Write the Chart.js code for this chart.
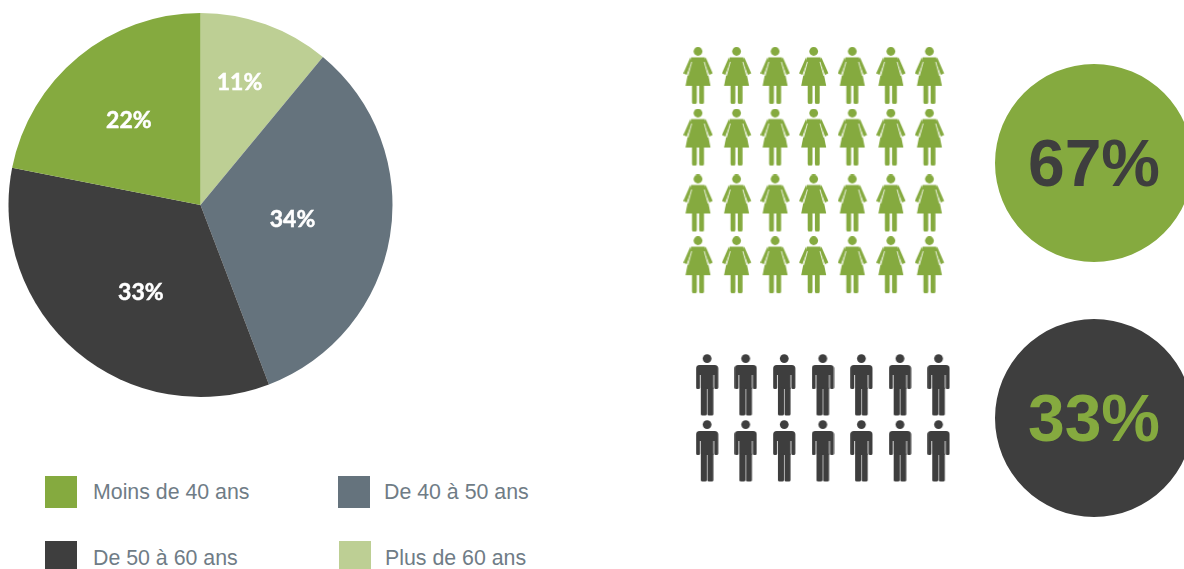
<!DOCTYPE html>
<html lang="fr">
<head>
<meta charset="utf-8">
<title>Répartition par âge et par sexe</title>
<script src="https://cdn.jsdelivr.net/npm/chart.js@4"></script>
<style>
    html, body { margin: 0; padding: 0; width: 1184px; height: 569px; overflow: hidden; background: #fff; }
    canvas { position: absolute; }
    #pieChart { left: 0; top: 0; }
    #womenChart { left: 679px; top: 45px; }
    #menChart { left: 688px; top: 352px; }
    #womenShare { left: 994px; top: 63px; }
    #menShare { left: 994px; top: 318px; }
    .key { position: absolute; width: 32px; height: 32px; }
    .keyText { position: absolute; font: 21.33px "Liberation Sans", sans-serif; color: #6f7c86; line-height: 32px; white-space: nowrap; }
</style>
</head>
<body>
<canvas id="pieChart" width="401" height="410"></canvas>
<canvas id="womenChart" width="270" height="251"></canvas>
<canvas id="menChart" width="270" height="132"></canvas>
<canvas id="womenShare" width="200" height="200"></canvas>
<canvas id="menShare" width="200" height="200"></canvas>
<div id="legend"></div>

<script>
// Slices clockwise from 12 o'clock. Shares are measured from the drawn angles,
// the printed labels are kept as they stand in the picture.
const categories = ['Plus de 60 ans', 'De 40 à 50 ans', 'De 50 à 60 ans', 'Moins de 40 ans'];
const sliceShares = [11, 33.2, 33.9, 21.9];
const sliceLabels = ['11%', '34%', '33%', '22%'];

const womenCount = 28;
const menCount = 14;
const iconsPerRow = 7;
const womenPercent = [67];
const menPercent = [33];

const GREEN = '#85aa3f';
const SLATE = '#65737d';
const DARK = '#3e3e3e';
const LIGHT = '#bdcf94';
const sliceColors = [LIGHT, SLATE, DARK, GREEN];

// where each label sits: angle from top in degrees, distance from the centre in px
const labelSpots = [[17.6, 129], [98.5, 93], [214.6, 105], [320, 111.5]];
// legend slots, same order as categories
const legendSpots = [
    { x: 339, y: 541, tx: 385, ty: 542 },
    { x: 338, y: 476, tx: 384, ty: 476 },
    { x: 45, y: 541, tx: 93, ty: 542 },
    { x: 45, y: 476, tx: 93, ty: 476 }
];

function newIcon(w, h) {
    const c = document.createElement('canvas');
    c.width = w;
    c.height = h;
    return c;
}

function poly(g, pts) {
    g.beginPath();
    pts.forEach((p, i) => (i ? g.lineTo(p[0], p[1]) : g.moveTo(p[0], p[1])));
    g.closePath();
    g.fill();
}

function womanIcon(color) {
    const c = newIcon(30, 58);
    const g = c.getContext('2d');
    g.fillStyle = color;
    g.strokeStyle = color;
    g.beginPath();
    g.arc(14.7, 4.5, 4.4, 0, Math.PI * 2);
    g.fill();
    // dress with shoulders
    poly(g, [[7.9, 10.4], [21.5, 10.4], [27.2, 39], [2.2, 39]]);
    // arms
    poly(g, [[7, 10.4], [0, 26.5], [3.4, 28], [8, 14.5]]);
    poly(g, [[22.4, 10.4], [29.4, 26.5], [26, 28], [21.4, 14.5]]);
    // thin gaps between arms and dress
    g.globalCompositeOperation = 'destination-out';
    g.lineWidth = 0.8;
    g.beginPath();
    g.moveTo(8.4, 15);
    g.lineTo(4.6, 29);
    g.moveTo(21, 15);
    g.lineTo(24.8, 29);
    g.stroke();
    g.globalCompositeOperation = 'source-over';
    // legs
    g.beginPath();
    g.roundRect(8.7, 38, 4.8, 19, 1.5);
    g.roundRect(15.9, 38, 4.8, 19, 1.5);
    g.fill();
    return c;
}

function manIcon(color) {
    const c = newIcon(23, 62);
    const g = c.getContext('2d');
    g.fillStyle = color;
    g.beginPath();
    g.arc(11.3, 4.6, 4.4, 0, Math.PI * 2);
    g.fill();
    // shoulders, arms and torso
    g.beginPath();
    g.roundRect(0.2, 11, 22.2, 10, [3.5, 3.5, 0, 0]);
    g.roundRect(0.2, 15, 4, 20, [0, 0, 1.5, 1.5]);
    g.roundRect(18.4, 15, 4, 20, [0, 0, 1.5, 1.5]);
    g.rect(5, 15, 12.6, 20);
    g.fill();
    // legs
    g.beginPath();
    g.roundRect(5, 33, 6, 28.5, 1.5);
    g.roundRect(11.6, 33, 6, 28.5, 1.5);
    g.fill();
    return c;
}

// rows come in pairs, with a slightly wider gap between the pairs
function iconPoints(count) {
    const pts = [];
    for (let i = 0; i < count; i++) {
        const row = Math.floor(i / iconsPerRow);
        pts.push({ x: i % iconsPerRow, y: row + Math.floor(row / 2) * 0.07 });
    }
    return pts;
}

function iconChart(id, count, icon, yMax) {
    return new Chart(document.getElementById(id), {
        type: 'scatter',
        data: {
            datasets: [{
                data: iconPoints(count),
                pointStyle: icon,
                clip: false
            }]
        },
        options: {
            responsive: false,
            animation: false,
            layout: { autoPadding: false },
            plugins: { legend: { display: false }, tooltip: { enabled: false } },
            scales: {
                x: { display: false, min: -0.5, max: iconsPerRow - 0.5 },
                y: { display: false, reverse: true, min: -0.5, max: yMax }
            }
        }
    });
}

// printed percentages on the big pie
const sliceLabelPlugin = {
    id: 'sliceLabels',
    afterDatasetsDraw(chart) {
        const ctx = chart.ctx;
        const cx = (chart.chartArea.left + chart.chartArea.right) / 2;
        const cy = (chart.chartArea.top + chart.chartArea.bottom) / 2;
        ctx.save();
        ctx.font = 'bold 23px Lato, sans-serif';
        ctx.fillStyle = '#fff';
        ctx.strokeStyle = '#fff';
        ctx.lineWidth = 0.5;
        ctx.textAlign = 'center';
        ctx.textBaseline = 'middle';
        sliceLabels.forEach((txt, i) => {
            const a = labelSpots[i][0] * Math.PI / 180;
            const r = labelSpots[i][1];
            const x = cx + Math.sin(a) * r;
            const y = cy - Math.cos(a) * r + 1;
            ctx.fillText(txt, x, y);
            ctx.strokeText(txt, x, y);
        });
        ctx.restore();
    }
};

// big number in the middle of the round badges
const badgeTextPlugin = {
    id: 'badgeText',
    afterDatasetsDraw(chart, args, opts) {
        const ctx = chart.ctx;
        const p = chart.getDatasetMeta(0).data[0];
        ctx.save();
        ctx.font = 'bold 66px "Liberation Sans", sans-serif';
        ctx.fillStyle = opts.color;
        ctx.textAlign = 'center';
        ctx.textBaseline = 'middle';
        ctx.fillText(opts.text, p.x, p.y + 5);
        ctx.restore();
    }
};

function badgeChart(id, values, fill, textColor) {
    return new Chart(document.getElementById(id), {
        type: 'pie',
        data: {
            labels: [values[0] + '%'],
            datasets: [{ data: values, backgroundColor: fill, borderWidth: 0 }]
        },
        options: {
            responsive: false,
            animation: false,
            radius: 99,
            plugins: {
                legend: { display: false },
                tooltip: { enabled: false },
                badgeText: { text: values[0] + '%', color: textColor }
            }
        },
        plugins: [badgeTextPlugin]
    });
}

new Chart(document.getElementById('pieChart'), {
    type: 'pie',
    data: {
        labels: categories,
        datasets: [{
            data: sliceShares,
            backgroundColor: sliceColors,
            borderWidth: 0
        }]
    },
    options: {
        responsive: false,
        animation: false,
        radius: 192,
        plugins: { legend: { display: false }, tooltip: { enabled: false } }
    },
    plugins: [sliceLabelPlugin]
});

iconChart('womenChart', womenCount, womanIcon(GREEN), 3.57);
iconChart('menChart', menCount, manIcon(DARK), 1.5);
badgeChart('womenShare', womenPercent, GREEN, DARK);
badgeChart('menShare', menPercent, DARK, GREEN);

// legend
const legend = document.getElementById('legend');
categories.forEach((name, i) => {
    const s = legendSpots[i];
    const box = document.createElement('div');
    box.className = 'key';
    box.style.cssText = `left:${s.x}px;top:${s.y}px;background:${sliceColors[i]}`;
    const txt = document.createElement('div');
    txt.className = 'keyText';
    txt.style.cssText = `left:${s.tx}px;top:${s.ty}px`;
    txt.textContent = name;
    legend.append(box, txt);
});
</script>
</body>
</html>
